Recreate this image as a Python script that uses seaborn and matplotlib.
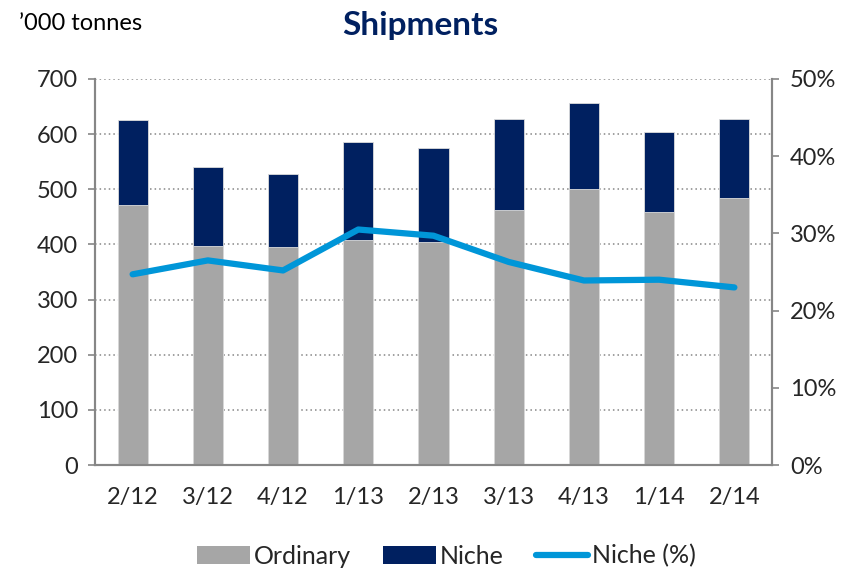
import numpy as np
import pandas as pd
import seaborn as sns
import matplotlib.pyplot as plt
from matplotlib.patches import Patch
from matplotlib.lines import Line2D
from matplotlib.ticker import PercentFormatter

# Data
quarters = ['2/12', '3/12', '4/12', '1/13', '2/13', '3/13', '4/13', '1/14', '2/14']
ordinary = [472, 397, 395, 408, 404, 462, 500, 458, 484]
niche = [153, 143, 133, 178, 170, 165, 156, 145, 144]
niche_pct = [24.7, 26.5, 25.2, 30.5, 29.7, 26.3, 23.9, 24.0, 23.0]

gray = '#A6A6A6'
navy = '#002060'
blue = '#0096D8'
axis_gray = '#868686'

sns.set_theme(style='white')
plt.rcParams['font.family'] = ['Lato', 'DejaVu Sans']

df = pd.DataFrame({'quarter': quarters, 'ordinary': ordinary, 'niche': niche})
df['total'] = df['ordinary'] + df['niche']

fig = plt.figure(figsize=(8.46, 5.68), dpi=100)
ax = fig.add_axes([0.1123, 0.1813, 0.8002, 0.6797])

# Stacked bars: draw totals in navy, then ordinary over them in gray
sns.barplot(data=df, x='quarter', y='total', color=navy, saturation=1,
            width=0.4, edgecolor='#DCDCDC', linewidth=0.6, ax=ax, zorder=2)
sns.barplot(data=df, x='quarter', y='ordinary', color=gray, saturation=1,
            width=0.4, edgecolor='#DCDCDC', linewidth=0.6, ax=ax, zorder=3)

ax.set_xlim(-0.5, len(quarters) - 0.5)
ax.set_ylim(0, 700)
ax.set_yticks(range(0, 701, 100))
ax.set_xlabel('')
ax.set_ylabel('')
ax.yaxis.grid(True, color=axis_gray, linestyle=(0, (1, 2)), linewidth=1.1)
ax.set_axisbelow(True)
ax.tick_params(axis='y', left=True, length=5, width=1.2, color=axis_gray,
               labelsize=17, pad=7)
ax.tick_params(axis='x', bottom=False, labelsize=17, pad=10)
for side in ['left', 'bottom', 'right']:
    ax.spines[side].set_color(axis_gray)
    ax.spines[side].set_linewidth(1.5)
ax.spines['top'].set_visible(False)

# Niche share on secondary axis
ax2 = ax.twinx()
sns.lineplot(x=np.arange(len(quarters)), y=np.array(niche_pct) / 100,
             color=blue, linewidth=4.5, solid_capstyle='round', ax=ax2, zorder=5)
ax2.set_ylim(0, 0.5)
ax2.set_yticks(np.arange(0, 0.51, 0.1))
ax2.yaxis.set_major_formatter(PercentFormatter(1.0, decimals=0))
ax2.tick_params(axis='y', right=True, length=5, width=1.2, color=axis_gray,
                labelsize=17, pad=8)
ax2.set_ylabel('')
for side in ['left', 'bottom', 'right']:
    ax2.spines[side].set_color(axis_gray)
    ax2.spines[side].set_linewidth(1.5)
ax2.spines['top'].set_visible(False)

fig.text(0.497, 0.955, 'Shipments', ha='center', va='center',
         fontsize=24, fontweight='bold', color=navy)
fig.text(0.022, 0.958, '\u2019000 tonnes', ha='left', va='center',
         fontsize=17, color='black')

handles = [Patch(facecolor=gray, edgecolor='none'),
           Patch(facecolor=navy, edgecolor='none'),
           Line2D([0], [0], color=blue, linewidth=4.5, solid_capstyle='round')]
fig.legend(handles, ['Ordinary', 'Niche', 'Niche (%)'], loc='center',
           bbox_to_anchor=(0.528, 0.021), ncol=3, frameon=False, fontsize=18,
           handlelength=2.1, handleheight=0.75, handletextpad=0.15,
           columnspacing=1.3)

fig.savefig('out.png', dpi=100)
